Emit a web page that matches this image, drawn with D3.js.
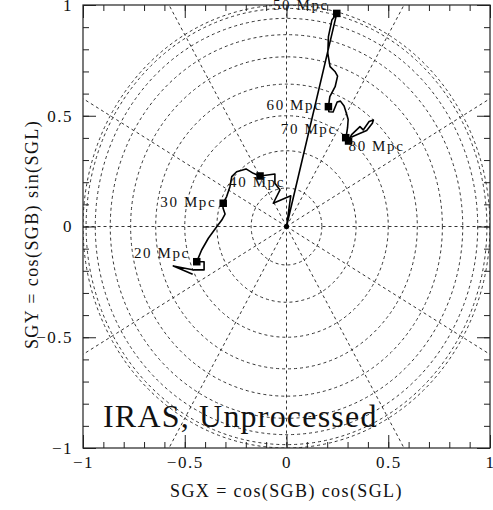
<!DOCTYPE html>
<html>
<head>
<meta charset="utf-8">
<script src="https://cdn.jsdelivr.net/npm/d3@7"></script>
<style>
  body { margin: 0; background: #fff; }
  text { font-family: "Liberation Serif", "DejaVu Serif", serif; fill: #111; }
</style>
</head>
<body>
<svg id="chart" width="493" height="510"></svg>
<script>
// Dipole direction track, projected onto the supergalactic plane
const trackX = [-0.461, -0.556, -0.455, -0.405, -0.405, -0.441, -0.417, -0.384, -0.343, -0.318, -0.302, -0.312,
  -0.311, -0.294, -0.278, -0.269, -0.245, -0.199, -0.163, -0.130, -0.057, -0.057, -0.032, -0.065, 0.021, 0.0,
  0.247, 0.223, 0.206, 0.203, 0.214, 0.238, 0.251, 0.239, 0.213, 0.206,
  0.208, 0.229, 0.249, 0.265, 0.283, 0.295, 0.303, 0.300, 0.295, 0.290, 0.305,
  0.320, 0.361, 0.377, 0.406, 0.427, 0.422, 0.394, 0.348, 0.320];
const trackY = [-0.216, -0.178, -0.196, -0.196, -0.159, -0.159, -0.106, -0.053, -0.001, 0.029, 0.056, 0.084,
  0.105, 0.135, 0.180, 0.225, 0.247, 0.260, 0.240, 0.228, 0.237, 0.195, 0.165, 0.105, 0.139, 0.0,
  0.962, 0.932, 0.857, 0.782, 0.722, 0.700, 0.679, 0.631, 0.586, 0.541,
  0.518, 0.517, 0.562, 0.566, 0.544, 0.509, 0.483, 0.446, 0.416, 0.404, 0.389,
  0.415, 0.451, 0.436, 0.474, 0.481, 0.466, 0.433, 0.415, 0.404];

// Depth markers along the track
const markerDepth = [20, 30, 40, 50, 60, 70, 80];
const markerX = [-0.441, -0.311, -0.130, 0.247, 0.206, 0.291, 0.305];
const markerY = [-0.159, 0.105, 0.228, 0.962, 0.541, 0.401, 0.386];

// Coordinate grid: circles of constant SGB, rays of constant SGL (degrees)
const gridSGB = [0, 10, 20, 30, 40, 50, 60, 70, 80];
const gridSGL = [0, 30, 60, 90, 120, 150, 180, 210, 240, 270, 300, 330];

// Axis ticks
const majorTicks = [-1, -0.5, 0, 0.5, 1];
const minorTicks = d3.range(-10, 11).map(i => i / 10);

const svg = d3.select("#chart");
const plotLeft = 83, plotRight = 490, plotTop = 5, plotBottom = 448;

const x = d3.scaleLinear().domain([-1, 1]).range([plotLeft, plotRight]);
const y = d3.scaleLinear().domain([-1, 1]).range([plotBottom, plotTop]);

svg.append("defs").append("clipPath").attr("id", "plotClip")
  .append("rect").attr("x", plotLeft).attr("y", plotTop)
  .attr("width", plotRight - plotLeft).attr("height", plotBottom - plotTop);

const grid = svg.append("g").attr("clip-path", "url(#plotClip)")
  .attr("fill", "none").attr("stroke", "#333").attr("stroke-width", 1)
  .attr("stroke-dasharray", "3,3");

grid.selectAll("ellipse").data(gridSGB).join("ellipse")
  .attr("cx", x(0)).attr("cy", y(0))
  .attr("rx", d => x(Math.cos(d * Math.PI / 180)) - x(0))
  .attr("ry", d => y(0) - y(Math.cos(d * Math.PI / 180)));

grid.selectAll("line").data(gridSGL).join("line")
  .attr("x1", x(0)).attr("y1", y(0))
  .attr("x2", d => x(2 * Math.cos(d * Math.PI / 180)))
  .attr("y2", d => y(2 * Math.sin(d * Math.PI / 180)));

// Track line
const pts = trackX.map((v, i) => [v, trackY[i]]);
svg.append("path").datum(pts)
  .attr("fill", "none").attr("stroke", "#000").attr("stroke-width", 1.6)
  .attr("stroke-linejoin", "round")
  .attr("d", d3.line().x(d => x(d[0])).y(d => y(d[1])));

// Origin dot
svg.append("circle").attr("cx", x(0)).attr("cy", y(0)).attr("r", 2.5).attr("fill", "#000");

// Depth markers
const msize = 7.5;
svg.selectAll("rect.marker").data(markerDepth).join("rect").attr("class", "marker")
  .attr("x", (d, i) => x(markerX[i]) - msize / 2)
  .attr("y", (d, i) => y(markerY[i]) - msize / 2)
  .attr("width", msize).attr("height", msize).attr("fill", "#000");

// Label placement relative to each marker
const labelPlace = {
  20: { dx: -7, dy: -3.5, anchor: "end" },
  30: { dx: -7, dy: 4, anchor: "end" },
  40: { dx: -3, dy: 11, anchor: "middle" },
  50: { dx: -8, dy: -3.5, anchor: "end" },
  60: { dx: -6, dy: 3.5, anchor: "end" },
  70: { dx: -9, dy: -3.5, anchor: "end" },
  80: { dx: 0, dy: 9.5, anchor: "start" }
};
svg.selectAll("text.depth").data(markerDepth).join("text").attr("class", "depth")
  .attr("x", (d, i) => x(markerX[i]) + labelPlace[d].dx)
  .attr("y", (d, i) => y(markerY[i]) + labelPlace[d].dy)
  .attr("text-anchor", d => labelPlace[d].anchor)
  .attr("font-size", 15).attr("letter-spacing", 1.6)
  .text(d => `${d} Mpc`);

// Axes: ticks point inward on all four sides
const fmt = d => d === 0 ? "0" : (d < 0 ? "\u2212" + Math.abs(d) : String(d));
function styleAxis(g) {
  g.select(".domain").remove();
  g.selectAll(".tick line").attr("stroke", "#222").attr("stroke-width", 1);
  g.selectAll(".tick text").attr("font-family", "Liberation Serif, serif")
    .attr("font-size", 17).attr("letter-spacing", 1.5).attr("fill", "#111");
}
svg.append("g").attr("transform", `translate(0,${plotBottom})`)
  .call(d3.axisBottom(x).tickValues(minorTicks).tickSize(-6).tickFormat("")).call(styleAxis);
svg.append("g").attr("transform", `translate(0,${plotBottom})`)
  .call(d3.axisBottom(x).tickValues(majorTicks).tickSize(-13).tickPadding(8).tickFormat(fmt)).call(styleAxis);
svg.append("g").attr("transform", `translate(0,${plotTop})`)
  .call(d3.axisTop(x).tickValues(minorTicks).tickSize(-6).tickFormat("")).call(styleAxis);
svg.append("g").attr("transform", `translate(0,${plotTop})`)
  .call(d3.axisTop(x).tickValues(majorTicks).tickSize(-13).tickFormat("")).call(styleAxis);
svg.append("g").attr("transform", `translate(${plotLeft},0)`)
  .call(d3.axisLeft(y).tickValues(minorTicks).tickSize(-6).tickFormat("")).call(styleAxis);
svg.append("g").attr("transform", `translate(${plotLeft},0)`)
  .call(d3.axisLeft(y).tickValues(majorTicks).tickSize(-13).tickPadding(10).tickFormat(fmt)).call(styleAxis);
svg.append("g").attr("transform", `translate(${plotRight},0)`)
  .call(d3.axisRight(y).tickValues(minorTicks).tickSize(-6).tickFormat("")).call(styleAxis);
svg.append("g").attr("transform", `translate(${plotRight},0)`)
  .call(d3.axisRight(y).tickValues(majorTicks).tickSize(-13).tickFormat("")).call(styleAxis);

// Frame
svg.append("rect").attr("x", plotLeft).attr("y", plotTop)
  .attr("width", plotRight - plotLeft).attr("height", plotBottom - plotTop)
  .attr("fill", "none").attr("stroke", "#222").attr("stroke-width", 1.2);

// Axis titles
svg.append("text").attr("x", (plotLeft + plotRight) / 2).attr("y", 497)
  .attr("text-anchor", "middle").attr("font-size", 18).attr("letter-spacing", 1.4)
  .text("SGX = cos(SGB) cos(SGL)");
svg.append("text").attr("transform", `translate(38,${(plotTop + plotBottom) / 2 + 8}) rotate(-90)`)
  .attr("text-anchor", "middle").attr("font-size", 18).attr("letter-spacing", 1.4)
  .text("SGY = cos(SGB) sin(SGL)");

// Panel title
svg.append("text").attr("x", 103).attr("y", 427)
  .attr("font-size", 32).attr("letter-spacing", 1.2)
  .text("IRAS, Unprocessed");
</script>
</body>
</html>
